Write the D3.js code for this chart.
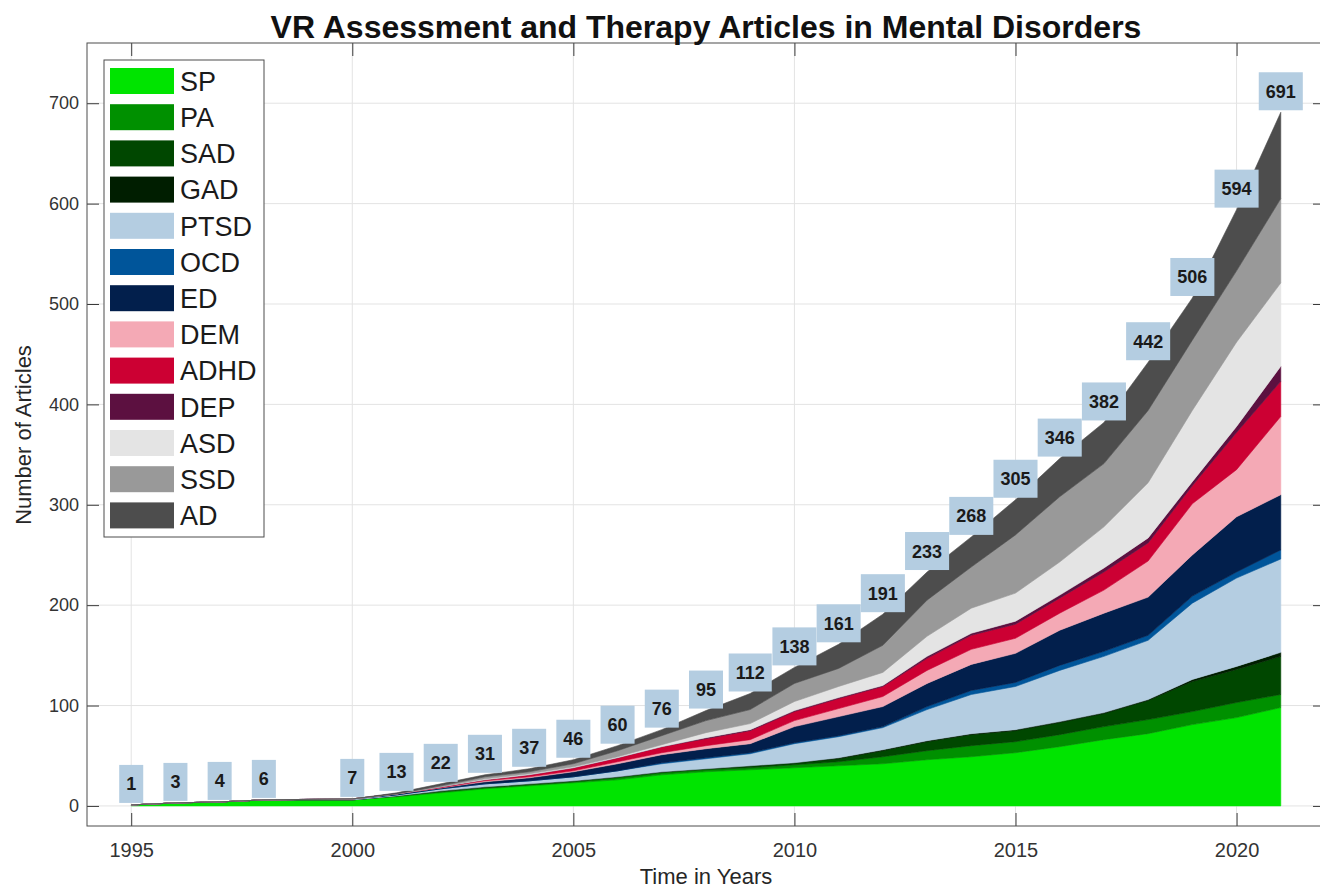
<!DOCTYPE html>
<html>
<head>
<meta charset="utf-8">
<script src="https://cdn.jsdelivr.net/npm/d3@7"></script>
<style>
  body { margin: 0; background: #fff; }
  svg text { font-family: "Liberation Sans", Arial, Helvetica, sans-serif; }
</style>
</head>
<body>
<svg id="chart" width="1320" height="889"></svg>
<script>
// Years (1999 is not in the data)
const years = [1995, 1996, 1997, 1998, 2000, 2001, 2002, 2003, 2004, 2005, 2006, 2007, 2008,
  2009, 2010, 2011, 2012, 2013, 2014, 2015, 2016, 2017, 2018, 2019, 2020, 2021];

// Articles per disorder (stack order, bottom to top)
const SP   = [1, 3, 4, 6, 6, 9, 13, 17, 20, 23, 26, 31, 34, 36, 38, 40, 42, 46, 49, 53, 59, 66, 72, 81, 88, 98];
const PA   = [0, 0, 0, 0, 0, 1, 1, 1, 1, 1, 2, 2, 2, 2, 3, 4, 7, 9, 11, 11, 12, 13, 14, 13, 15, 13];
const SAD  = [0, 0, 0, 0, 0, 0, 1, 1, 1, 1, 1, 1, 1, 2, 2, 3, 6, 9, 11, 11, 12, 13, 19, 30, 33, 38];
const GAD  = [0, 0, 0, 0, 0, 0, 0, 0, 0, 0, 0, 0, 0, 0, 0, 1, 1, 1, 1, 1, 1, 1, 1, 2, 3, 4];
const PTSD = [0, 0, 0, 0, 1, 1, 2, 3, 3, 4, 6, 8, 10, 12, 19, 21, 22, 31, 39, 43, 51, 56, 59, 76, 88, 93];
const OCD  = [0, 0, 0, 0, 0, 0, 0, 0, 0, 0, 0, 1, 1, 1, 1, 1, 1, 3, 4, 4, 5, 5, 5, 7, 6, 9];
const ED   = [0, 0, 0, 0, 0, 1, 1, 2, 3, 5, 7, 8, 9, 9, 16, 19, 20, 23, 26, 29, 35, 38, 38, 41, 55, 55];
const DEM  = [0, 0, 0, 0, 0, 0, 0, 1, 1, 1, 2, 2, 3, 4, 6, 8, 10, 13, 15, 15, 17, 23, 36, 51, 47, 78];
const ADHD = [0, 0, 0, 0, 0, 0, 1, 1, 2, 3, 4, 6, 7, 9, 9, 10, 10, 12, 14, 14, 15, 18, 18, 18, 37, 35];
const DEP  = [0, 0, 0, 0, 0, 0, 0, 0, 0, 0, 0, 0, 1, 1, 1, 1, 1, 2, 2, 3, 3, 4, 5, 4, 6, 15];
const ASD  = [0, 0, 0, 0, 0, 0, 0, 1, 1, 1, 1, 2, 5, 6, 9, 11, 13, 20, 25, 28, 33, 41, 55, 71, 84, 83];
const SSD  = [0, 0, 0, 0, 0, 0, 1, 2, 2, 3, 6, 9, 12, 14, 18, 18, 27, 36, 41, 58, 65, 63, 72, 70, 71, 84];
const AD   = [0, 0, 0, 0, 0, 1, 2, 2, 3, 4, 5, 6, 10, 16, 16, 24, 31, 28, 30, 35, 38, 41, 48, 42, 61, 86];

const seriesNames = ["SP", "PA", "SAD", "GAD", "PTSD", "OCD", "ED", "DEM", "ADHD", "DEP", "ASD", "SSD", "AD"];
const seriesValues = [SP, PA, SAD, GAD, PTSD, OCD, ED, DEM, ADHD, DEP, ASD, SSD, AD];
const seriesColors = ["#00e400", "#009000", "#004700", "#001e00", "#b4cde1", "#00559a", "#021f4c",
  "#f4a9b5", "#cc0033", "#5c1040", "#e4e4e4", "#999999", "#4d4d4d"];

const xTicks = [1995, 2000, 2005, 2010, 2015, 2020];
const yTicks = [0, 100, 200, 300, 400, 500, 600, 700];

const svg = d3.select("#chart");
const plot = { left: 87, right: 1325, top: 43, bottom: 826 };

const x = d3.scaleLinear().domain([1994, 2022]).range([plot.left, plot.right]);
const y = d3.scaleLinear().domain([-20, 760]).range([plot.bottom, plot.top]);

// rows for d3.stack
const rows = years.map((yr, i) => {
  const row = { year: yr };
  seriesNames.forEach((name, k) => { row[name] = seriesValues[k][i]; });
  return row;
});
const stacked = d3.stack().keys(seriesNames)(rows);

// Grid (behind the areas)
const grid = svg.append("g").attr("class", "grid");
grid.selectAll("line.gx").data(xTicks).join("line")
  .attr("x1", d => x(d)).attr("x2", d => x(d))
  .attr("y1", plot.top).attr("y2", plot.bottom)
  .attr("stroke", "#e3e3e3");
grid.selectAll("line.gy").data(yTicks).join("line")
  .attr("x1", plot.left).attr("x2", plot.right)
  .attr("y1", d => y(d)).attr("y2", d => y(d))
  .attr("stroke", "#e3e3e3");

// Stacked areas
const area = d3.area()
  .x(d => x(d.data.year))
  .y0(d => y(d[0]))
  .y1(d => y(d[1]));

svg.append("g").selectAll("path").data(stacked).join("path")
  .attr("d", area)
  .attr("fill", (d, i) => seriesColors[i])
  .attr("stroke", (d, i) => seriesColors[i])
  .attr("stroke-width", 0.6);

// Axes
const tickColor = "#3a3a3a";
const xAxis = svg.append("g")
  .attr("transform", `translate(0,${plot.bottom})`)
  .call(d3.axisBottom(x).tickValues(xTicks).tickFormat(d3.format("d")).tickSize(-13).tickPadding(17));
const xAxisTop = svg.append("g")
  .attr("transform", `translate(0,${plot.top})`)
  .call(d3.axisTop(x).tickValues(xTicks).tickFormat("").tickSize(-13));
const yAxis = svg.append("g")
  .attr("transform", `translate(${plot.left},0)`)
  .call(d3.axisLeft(y).tickValues(yTicks).tickSize(-12).tickPadding(8));
const yAxisRight = svg.append("g")
  .attr("transform", `translate(${plot.right},0)`)
  .call(d3.axisRight(y).tickValues(yTicks).tickFormat("").tickSize(-12));

[xAxis, xAxisTop, yAxis, yAxisRight].forEach(g => {
  g.select(".domain").remove();
  g.selectAll(".tick line").attr("stroke", tickColor);
});
xAxis.selectAll("text").attr("font-size", 20).attr("fill", "#333");
yAxis.selectAll("text").attr("font-size", 18).attr("fill", "#333");

// Frame
svg.append("rect")
  .attr("x", plot.left).attr("y", plot.top)
  .attr("width", plot.right - plot.left).attr("height", plot.bottom - plot.top)
  .attr("fill", "none").attr("stroke", "#4d4d4d");

// Total labels over each year
const totals = rows.map(r => ({ year: r.year, total: d3.sum(seriesNames, k => r[k]) }));
const labelG = svg.append("g").selectAll("g").data(totals).join("g")
  .attr("transform", d => `translate(${x(d.year)},${y(d.total) - 2 - 19})`);
labelG.append("text")
  .attr("text-anchor", "middle")
  .attr("dy", "0.36em")
  .attr("font-size", 18)
  .attr("font-weight", "bold")
  .attr("fill", "#1a1a1a")
  .text(d => d.total);
labelG.insert("rect", "text")
  .each(function () {
    const w = this.parentNode.querySelector("text").getComputedTextLength() + 14;
    d3.select(this).attr("x", -w / 2).attr("width", w);
  })
  .attr("y", -19).attr("height", 38)
  .attr("fill", "#b4cde1");

// Title and axis labels
svg.append("text")
  .attr("x", 706).attr("y", 38)
  .attr("text-anchor", "middle")
  .attr("font-size", 32).attr("font-weight", "bold")
  .attr("fill", "#111")
  .text("VR Assessment and Therapy Articles in Mental Disorders");

svg.append("text")
  .attr("x", 706).attr("y", 884)
  .attr("text-anchor", "middle")
  .attr("font-size", 22).attr("fill", "#262626")
  .text("Time in Years");

svg.append("text")
  .attr("transform", "translate(31,435) rotate(-90)")
  .attr("text-anchor", "middle")
  .attr("font-size", 22).attr("fill", "#262626")
  .text("Number of Articles");

// Legend
const legend = svg.append("g");
legend.append("rect")
  .attr("x", 104).attr("y", 60).attr("width", 160).attr("height", 477)
  .attr("fill", "#fff").attr("stroke", "#4d4d4d");
const rowH = 36.2;
const items = legend.selectAll("g.item").data(seriesNames).join("g")
  .attr("transform", (d, i) => `translate(0,${81 + i * rowH})`);
items.append("rect")
  .attr("x", 110).attr("y", -13).attr("width", 64).attr("height", 26)
  .attr("fill", (d, i) => seriesColors[i]);
items.append("text")
  .attr("x", 180).attr("dy", "0.36em")
  .attr("font-size", 27).attr("fill", "#1a1a1a")
  .text(d => d);
</script>
</body>
</html>
